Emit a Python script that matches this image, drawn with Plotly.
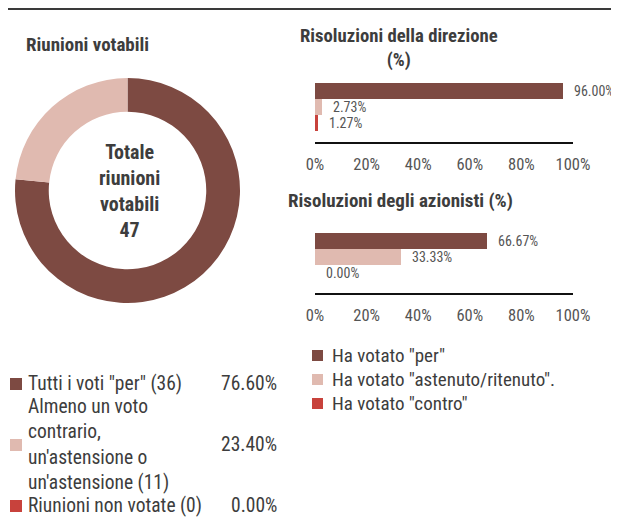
import plotly.graph_objects as go

# page is offset by the 8px body margin, so reference pixel (x, y) -> figure (x-8, y-8)
OFF = 8
W, H = 619 - OFF, 523 - OFF
def px(x): return (x - OFF) / W
def py(y): return 1 - (y - OFF) / H

FONT = "Roboto Condensed, Open Sans Condensed, DejaVu Sans Condensed, sans-serif"
TXT = "#3d3d3d"
GRAY = "#555555"

# ---- data ----
pie_labels = ['Tutti i voti "per" (36)',
              "Almeno un voto<br>contrario,<br>un'astensione o<br>un'astensione (11)",
              'Riunioni non votate (0)']
pie_values = [36, 11, 0]
pie_pcts = ["76.60%", "23.40%", "0.00%"]
pie_total = 47

series_names = ['Ha votato "per"', 'Ha votato "astenuto/ritenuto".', 'Ha votato "contro"']
direzione_vals = [96.00, 2.73, 1.27]
azionisti_vals = [66.67, 33.33, 0.00]
x_ticks = [0, 20, 40, 60, 80, 100]
x_tick_labels = ["0%", "20%", "40%", "60%", "80%", "100%"]

colors = ["#7d4a42", "#e0bab0", "#c8423c"]

fig = go.Figure()

# donut
fig.add_trace(go.Pie(
    labels=[l.replace("<br>", " ") for l in pie_labels], values=pie_values,
    marker=dict(colors=colors, line=dict(width=0)),
    hole=0.70, sort=False, direction="clockwise", rotation=0,
    textinfo="none", showlegend=False,
    domain=dict(x=[px(15), px(240)], y=[py(303), py(78)]),
))

idx = [0, 1, 2]
fig.add_trace(go.Bar(
    x=direzione_vals, y=idx, orientation="h", width=1,
    marker=dict(color=colors, line=dict(width=0)),
    xaxis="x", yaxis="y", showlegend=False,
    hovertext=series_names, hoverinfo="text+x",
))
fig.add_trace(go.Bar(
    x=azionisti_vals, y=idx, orientation="h", width=1,
    marker=dict(color=colors, line=dict(width=0)),
    xaxis="x2", yaxis="y2", showlegend=False,
    hovertext=series_names, hoverinfo="text+x",
))

xaxis_common = dict(
    range=[0, 100], tickvals=x_ticks, ticktext=x_tick_labels,
    showgrid=False, zeroline=False, showline=True, linecolor="#111111", linewidth=1.5,
    ticks="outside", ticklen=6, tickcolor="rgba(0,0,0,0)",
    tickfont=dict(family=FONT, size=16.5, color=GRAY), fixedrange=True,
)
yaxis_common = dict(showticklabels=False, showgrid=False, zeroline=False,
                    showline=False, fixedrange=True)

fig.update_layout(
    width=W, height=H, margin=dict(l=0, r=0, t=0, b=0, autoexpand=False),
    paper_bgcolor="white", plot_bgcolor="white",
    font=dict(family=FONT, color=TXT),
    bargap=0,
    xaxis=dict(domain=[px(315), px(573)], anchor="y", **xaxis_common),
    yaxis=dict(domain=[py(142), py(75)], range=[3.19, -1.0], anchor="x", **yaxis_common),
    xaxis2=dict(domain=[px(315), px(573)], anchor="y2", **xaxis_common),
    yaxis2=dict(domain=[py(293), py(225)], range=[3.25, -1.0], anchor="x2", **yaxis_common),
)

ann = []
for vals, xr, yr in [(direzione_vals, "x", "y"), (azionisti_vals, "x2", "y2")]:
    for i, v in zip(idx, vals):
        ann.append(dict(x=v, y=i, xref=xr, yref=yr, text=f"{v:.2f}%", showarrow=False,
                        xanchor="left", yanchor="middle", xshift=9,
                        font=dict(family=FONT, size=14, color=GRAY)))

ann.append(dict(x=px(24), y=py(44), xref="paper", yref="paper", text="<b>Riunioni votabili</b>",
                showarrow=False, xanchor="left", yanchor="middle",
                font=dict(family=FONT, size=19, color=TXT)))
ann.append(dict(x=px(399), y=py(48), xref="paper", yref="paper",
                text="<b>Risoluzioni della direzione<br>(%)</b>",
                showarrow=False, xanchor="center", yanchor="middle",
                font=dict(family=FONT, size=18.7, color=TXT)))
ann.append(dict(x=px(400), y=py(200), xref="paper", yref="paper",
                text="<b>Risoluzioni degli azionisti (%)</b>",
                showarrow=False, xanchor="center", yanchor="middle",
                font=dict(family=FONT, size=19, color=TXT)))
ann.append(dict(x=px(129), y=py(191), xref="paper", yref="paper",
                text=f"<b>Totale<br>riunioni<br>votabili<br>{pie_total}</b>",
                showarrow=False, xanchor="center", yanchor="middle",
                font=dict(family=FONT, size=20, color=TXT)))

shapes = [dict(type="rect", xref="paper", yref="paper", x0=px(4), x1=px(619),
               y0=py(10), y1=py(5), fillcolor="#3a3a3a", line=dict(width=0))]

pie_leg_y = [383, 444, 505]
for lab, pct, c, yy in zip(pie_labels, pie_pcts, colors, pie_leg_y):
    shapes.append(dict(type="rect", xref="paper", yref="paper", x0=px(10), x1=px(22),
                       y0=py(yy + 7), y1=py(yy - 5), fillcolor=c, line=dict(width=0)))
    ann.append(dict(x=px(26), y=py(yy), xref="paper", yref="paper", text=lab,
                    showarrow=False, xanchor="left", yanchor="middle", align="left",
                    font=dict(family=FONT, size=19.5, color=TXT)))
    ann.append(dict(x=px(279), y=py(yy), xref="paper", yref="paper", text=pct,
                    showarrow=False, xanchor="right", yanchor="middle",
                    font=dict(family=FONT, size=19.5, color=TXT)))

bar_leg_y = [355, 379, 403]
for name, c, yy in zip(series_names, colors, bar_leg_y):
    shapes.append(dict(type="rect", xref="paper", yref="paper", x0=px(312), x1=px(323),
                       y0=py(yy + 6), y1=py(yy - 5), fillcolor=c, line=dict(width=0)))
    ann.append(dict(x=px(330), y=py(yy), xref="paper", yref="paper", text=name,
                    showarrow=False, xanchor="left", yanchor="middle",
                    font=dict(family=FONT, size=19, color=TXT)))

fig.update_layout(annotations=ann, shapes=shapes)
fig.write_html("out.html")
